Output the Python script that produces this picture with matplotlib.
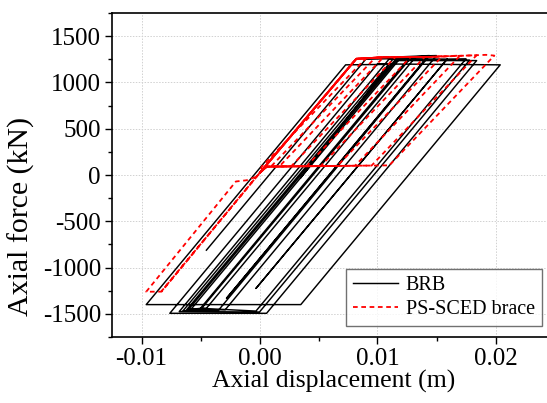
import matplotlib
matplotlib.use('Agg')
import matplotlib.pyplot as plt
from matplotlib.ticker import MultipleLocator, FormatStrFormatter

plt.rcParams['font.family'] = ['Liberation Serif', 'DejaVu Serif']
plt.rcParams['axes.unicode_minus'] = False

# BRB 滞回曲线 (位移 m, 轴力 kN)，按加载历程顺序
brb_disp = [-0.0045, 0.0090, 0.0128, -0.0049, -0.0058, 0.0120, 0.0143, -0.0028,
            0.0143, 0.0150, -0.0029, -0.0062, 0.0117, 0.0144, -0.0035, -0.0065,
            0.0113, 0.0178, 0.0000, -0.0068, 0.0110, 0.0159, -0.0003, 0.0159,
            0.0175, -0.0003, -0.0050, 0.0127, 0.0132, -0.0045, -0.0060, 0.0116,
            0.0184, 0.0006, -0.0076, 0.0100, 0.0204, 0.0035, -0.0096, 0.0073,
            0.0110, 0.0035]
brb_force = [-812, 1250, 1262, -1440, -1450, 1272, 1282, -1332,
             1288, 1290, -1455, -1460, 1275, 1290, -1465, -1470,
             1250, 1240, -1480, -1475, 1255, 1252, -1225, 1252,
             1255, -1470, -1440, 1270, 1270, -1440, -1450, 1236,
             1236, -1494, -1494, 1200, 1190, -1400, -1400, 1190,
             1195, -30]

# PS-SCED 支撑，每一圈单独一组
sced_disp = [
    [0.0000, 0.0082, 0.0090, 0.0002, 0.0000],
    [0.0000, 0.0082, 0.0098, 0.0010, 0.0006, 0.0000],
    [0.0000, 0.0082, 0.0105, 0.0017, 0.0006, 0.0000],
    [0.0000, 0.0082, 0.0105, 0.0115, 0.0027, 0.0006, 0.0000],
    [0.0000, 0.0082, 0.0105, 0.0128, 0.0040, 0.0006, 0.0000],
    [0.0000, 0.0082, 0.0105, 0.0140, 0.0052, 0.0006, 0.0000],
    [0.0000, 0.0082, 0.0105, 0.0144, 0.0155, 0.0066, 0.0006, 0.0000],
    [0.0000, 0.0082, 0.0105, 0.0144, 0.0170, 0.0081, 0.0006, 0.0000],
    [0.0000, 0.0082, 0.0105, 0.0144, 0.0184, 0.0095, 0.0006, 0.0000],
    [0.0000, 0.0082, 0.0105, 0.0144, 0.0192, 0.0199, 0.0110, 0.0006, 0.0000,
     -0.0083, -0.0096, -0.0020, -0.0011, -0.0003],
    [0.0000, -0.0083, 0.0000],
]
sced_force = [
    [20, 1255, 1260, 92, 20],
    [20, 1255, 1266, 95, 90, 20],
    [20, 1255, 1272, 95, 90, 20],
    [20, 1255, 1272, 1273, 96, 90, 20],
    [20, 1255, 1272, 1274, 97, 90, 20],
    [20, 1255, 1272, 1275, 98, 90, 20],
    [20, 1255, 1272, 1275, 1284, 99, 90, 20],
    [20, 1255, 1272, 1275, 1290, 100, 90, 20],
    [20, 1255, 1272, 1275, 1294, 102, 90, 20],
    [20, 1255, 1272, 1275, 1298, 1290, 104, 90, 20,
     -1260, -1261, -70, -57, -20],
    [20, -1255, 20],
]

fig = plt.figure(figsize=(5.47, 4.03), dpi=100)
ax = fig.add_axes([112 / 547, 1 - 337 / 403, 442.5 / 547, 324 / 403])

ax.plot(brb_disp, brb_force, color='black', lw=1.05, label='BRB', zorder=3)
for i, (xs, ys) in enumerate(zip(sced_disp, sced_force)):
    ax.plot(xs, ys, color='red', lw=1.3, ls=(i * 0.9, (2.6, 2.0)),
            label='PS-SCED brace' if i == 0 else None, zorder=4)

ax.set_xlim(-0.0125, 0.025)
ax.set_ylim(-1750, 1750)
ax.xaxis.set_major_locator(MultipleLocator(0.01))
ax.xaxis.set_minor_locator(MultipleLocator(0.005))
ax.yaxis.set_major_locator(MultipleLocator(500))
ax.yaxis.set_minor_locator(MultipleLocator(250))
ax.xaxis.set_major_formatter(FormatStrFormatter('%.2f'))
ax.tick_params(which='major', direction='out', length=5, width=1, labelsize=18, pad=3)
ax.tick_params(which='minor', direction='out', length=3, width=1)
ax.grid(True, which='major', color='0.82', lw=0.7, ls=(0, (1.5, 1.5)))
ax.set_axisbelow(True)
ax.spines['right'].set_visible(False)
for s in ['left', 'top', 'bottom']:
    ax.spines[s].set_linewidth(1.2)

ax.set_xlabel('Axial displacement (m)', fontsize=18.5, labelpad=0)
ax.set_ylabel('Axial force (kN)', fontsize=21.5)
ax.yaxis.set_label_coords(-0.175, 0.373)

leg = ax.legend(loc='lower right', bbox_to_anchor=(542 / 547, 1 - 326 / 403),
                bbox_transform=fig.transFigure, fontsize=14.5, frameon=True,
                fancybox=False, edgecolor='0.3', borderaxespad=0, handlelength=2.2,
                borderpad=0.35, labelspacing=0.25, handletextpad=0.4)
leg.get_frame().set_linewidth(1.0)

fig.savefig('out.png', dpi=100)
